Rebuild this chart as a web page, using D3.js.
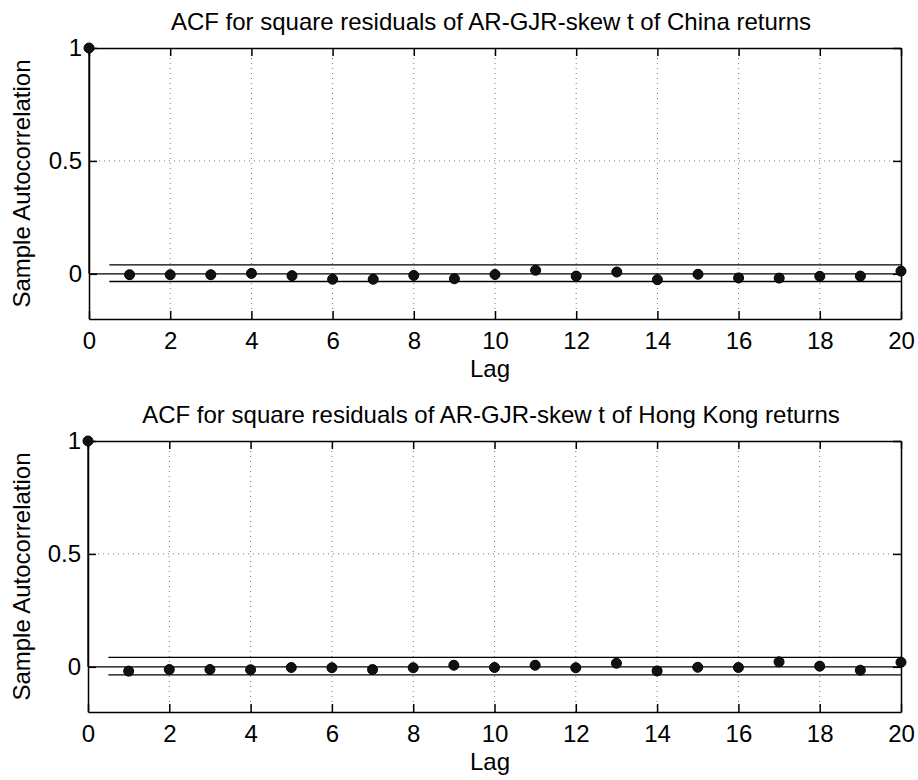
<!DOCTYPE html>
<html>
<head>
<meta charset="utf-8">
<script src="https://cdn.jsdelivr.net/npm/d3@7"></script>
<style>
  body { margin: 0; background: #fff; }
  text { font-family: "Liberation Sans", Arial, sans-serif; fill: #000; }
</style>
</head>
<body>
<div id="chart"></div>
<script>
// lags 0..20
var lags = d3.range(0, 21);

// sample autocorrelation of squared residuals
var chinaAcf = [1, -0.004, -0.004, -0.004, 0.002, -0.008, -0.024, -0.024, -0.007, -0.022,
                -0.003, 0.016, -0.010, 0.008, -0.026, -0.002, -0.018, -0.019, -0.011, -0.010, 0.012];
var hongKongAcf = [1, -0.019, -0.012, -0.012, -0.013, -0.003, -0.004, -0.012, -0.004, 0.007,
                   -0.003, 0.007, -0.004, 0.016, -0.018, -0.002, -0.003, 0.022, 0.003, -0.015, 0.020];

// confidence bounds [upper, lower]
var chinaBounds = [0.040, -0.034];
var hongKongBounds = [0.042, -0.036];

var titles = [
  "ACF for square residuals of AR-GJR-skew t of China returns",
  "ACF for square residuals of AR-GJR-skew t of Hong Kong returns"
];
var xTicks = [0, 2, 4, 6, 8, 10, 12, 14, 16, 18, 20];
var yTicks = [0, 0.5, 1];

var width = 918, height = 780;

var svg = d3.select("#chart").append("svg")
    .attr("width", width)
    .attr("height", height);

function drawPanel(left, top, title, values, bounds) {
  var w = 901 - left,
      h = 271;

  var g = svg.append("g")
      .attr("transform", "translate(" + left + "," + top + ")");

  var x = d3.scaleLinear().domain([0, 20]).range([0, w]);
  var y = d3.scaleLinear().domain([-0.2, 1]).range([h, 0]);

  // dotted grid
  g.append("g").selectAll("line")
    .data(xTicks.slice(1, -1))
    .enter().append("line")
      .attr("x1", function(d) { return x(d); })
      .attr("x2", function(d) { return x(d); })
      .attr("y1", 0).attr("y2", h)
      .attr("stroke", "#777")
      .attr("stroke-width", 1)
      .attr("stroke-dasharray", "1,4");
  g.append("g").selectAll("line")
    .data([0.5])
    .enter().append("line")
      .attr("x1", 0).attr("x2", w)
      .attr("y1", function(d) { return y(d); })
      .attr("y2", function(d) { return y(d); })
      .attr("stroke", "#777")
      .attr("stroke-width", 1)
      .attr("stroke-dasharray", "1,4");

  // axes, ticks pointing inward
  var xb = g.append("g").attr("transform", "translate(0," + h + ")")
    .call(d3.axisBottom(x).tickValues(xTicks).tickSize(-8).tickSizeOuter(0).tickPadding(13)
      .tickFormat(d3.format("d")));
  var xt = g.append("g")
    .call(d3.axisTop(x).tickValues(xTicks).tickSize(-8).tickSizeOuter(0).tickFormat(""));
  var yl = g.append("g")
    .call(d3.axisLeft(y).tickValues(yTicks).tickSize(-8).tickSizeOuter(0).tickPadding(7)
      .tickFormat(function(d) { return d === 0.5 ? "0.5" : d3.format("d")(d); }));
  var yr = g.append("g").attr("transform", "translate(" + w + ",0)")
    .call(d3.axisRight(y).tickValues(yTicks).tickSize(-8).tickSizeOuter(0).tickFormat(""));

  [xb, xt, yl, yr].forEach(function(a) {
    a.selectAll("path, line").attr("stroke", "#000").attr("stroke-width", 1.5);
    a.selectAll("text").style("font-size", "24px").attr("fill", "#000");
  });
  xb.selectAll("text").attr("dy", "0.71em");

  // confidence bounds
  g.append("g").selectAll("line")
    .data(bounds)
    .enter().append("line")
      .attr("x1", x(0.5)).attr("x2", x(20))
      .attr("y1", function(d) { return y(d); })
      .attr("y2", function(d) { return y(d); })
      .attr("stroke", "#000")
      .attr("stroke-width", 1.3);

  // zero baseline
  g.append("line")
    .attr("x1", x(0)).attr("x2", x(20))
    .attr("y1", y(0)).attr("y2", y(0))
    .attr("stroke", "#000")
    .attr("stroke-width", 1.3);

  // stems
  g.append("g").selectAll("line")
    .data(lags)
    .enter().append("line")
      .attr("x1", function(d) { return x(d); })
      .attr("x2", function(d) { return x(d); })
      .attr("y1", y(0))
      .attr("y2", function(d) { return y(values[d]); })
      .attr("stroke", "#000")
      .attr("stroke-width", 1.3);

  // markers
  g.append("g").selectAll("circle")
    .data(lags)
    .enter().append("circle")
      .attr("cx", function(d) { return x(d); })
      .attr("cy", function(d) { return y(values[d]); })
      .attr("r", 5)
      .attr("fill", "#111")
      .attr("stroke", "#000");

  // title
  g.append("text")
    .attr("x", 491 - left)
    .attr("y", -18)
    .attr("text-anchor", "middle")
    .style("font-size", "24px")
    .text(title);

  // x label
  g.append("text")
    .attr("x", 490 - left)
    .attr("y", h + 58)
    .attr("text-anchor", "middle")
    .style("font-size", "24px")
    .text("Lag");

  // y label
  g.append("text")
    .attr("transform", "translate(" + (30 - left) + "," + (h / 2) + ") rotate(-90)")
    .attr("text-anchor", "middle")
    .style("font-size", "24px")
    .text("Sample Autocorrelation");
}

drawPanel(89, 48, titles[0], chinaAcf, chinaBounds);
drawPanel(88, 441, titles[1], hongKongAcf, hongKongBounds);
</script>
</body>
</html>
